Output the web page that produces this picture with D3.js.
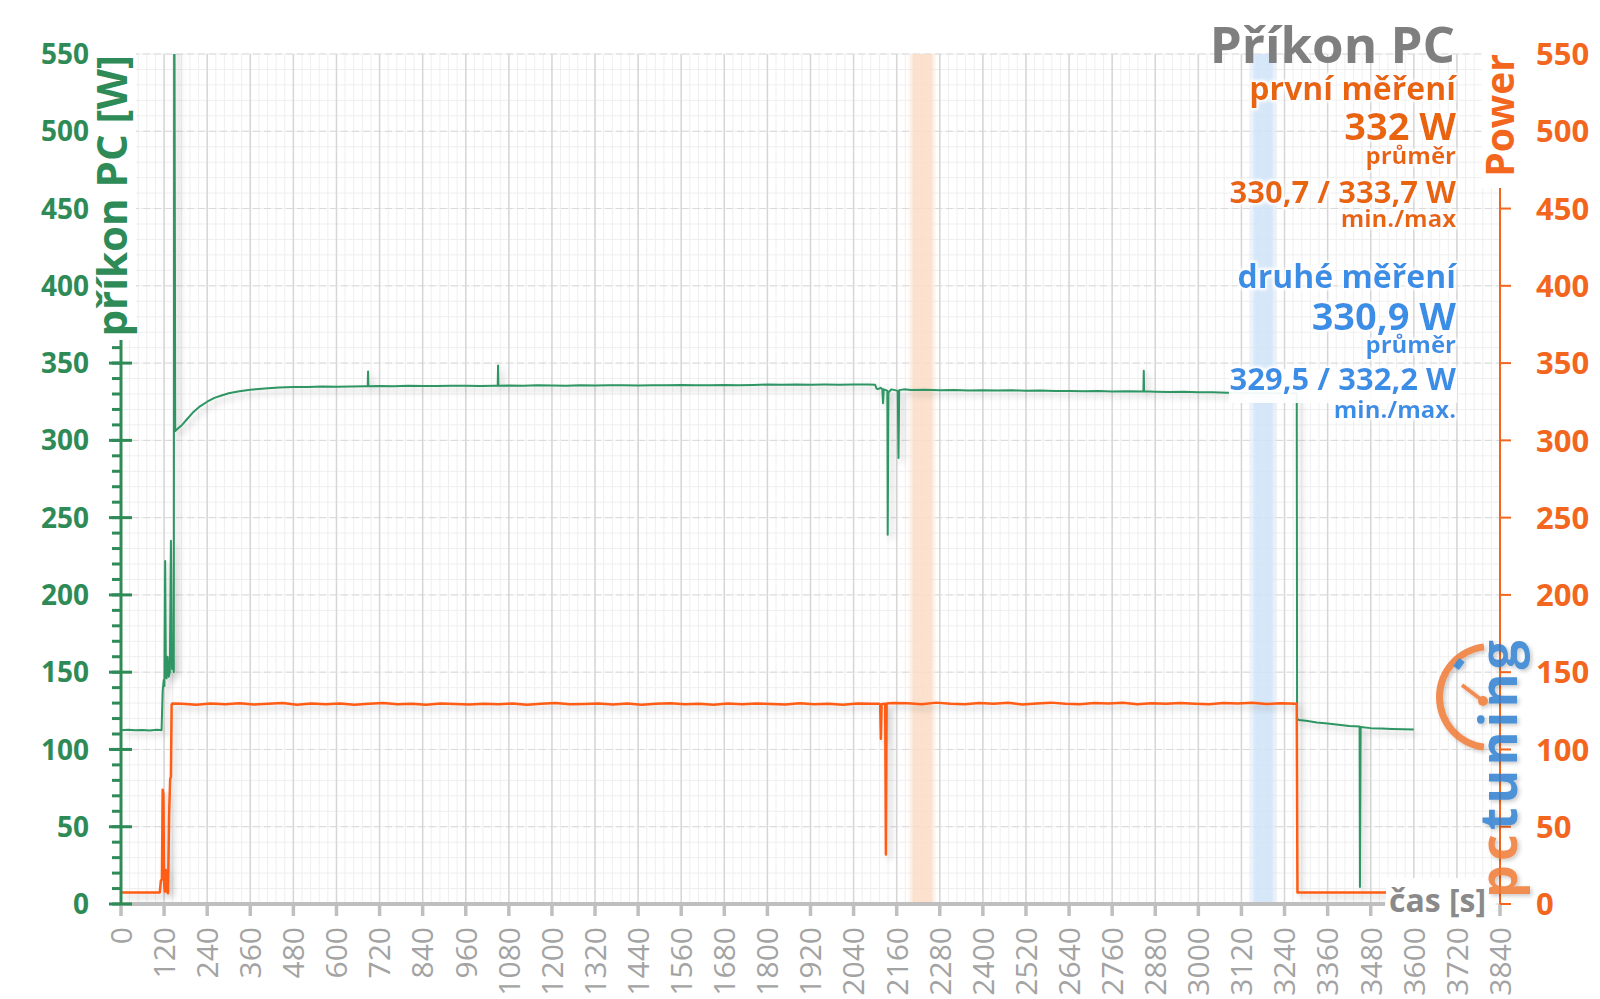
<!DOCTYPE html>
<html><head><meta charset="utf-8">
<script src="https://cdn.jsdelivr.net/npm/d3@7"></script>
<style>body{margin:0;background:#fff} svg{display:block} text{font-family:"Open Sans",sans-serif}</style>
</head><body><svg id="c" width="1600" height="999"></svg>
<script>
// ---- data ----
const xTickLabels = [0,120,240,360,480,600,720,840,960,1080,1200,1320,1440,1560,1680,1800,1920,2040,2160,2280,2400,2520,2640,2760,2880,3000,3120,3240,3360,3480,3600,3720,3840];
const yTickLabels = [0,50,100,150,200,250,300,350,400,450,500,550];

// příkon PC (green, left axis)
const pcTime = [0,20,40,60,80,100,113,116,119,121,123,125,127,130,133,136,139,142,144,147,148,149,151,160,170,185,200,220,240,260,280,300,330,360,400,440,480,520,560,600,640,680,687,688,689,720,760,800,840,880,920,960,1000,1040,1049,1050,1051,1080,1120,1160,1200,1240,1280,1320,1360,1400,1440,1480,1520,1560,1600,1640,1680,1720,1760,1800,1840,1880,1920,1960,2000,2040,2080,2100,2104,2108,2115,2120,2122,2124,2130,2134,2135,2137,2145,2155,2163,2165,2167,2180,2200,2240,2280,2320,2360,2400,2440,2480,2520,2560,2600,2640,2680,2720,2760,2800,2847,2848,2849,2880,2920,2960,3000,3040,3080,3120,3160,3200,3240,3274,3275,3280,3300,3330,3360,3390,3420,3449,3450,3452,3480,3510,3540,3570,3600];
const pcValue = [112.5,112.8,112.4,112.6,112.3,112.7,112.5,138,145,141,222,150,146,160,147,150,235,152,158,150,560,560,306,308,310,314,318,322,325,327.5,329,330.5,331.8,332.8,333.6,334.2,334.5,334.6,334.8,334.7,334.9,335,335,344.5,335,335.2,335,335.3,335.1,335.2,335.4,335.3,335.2,335.4,335.3,348.5,335.4,335.5,335.3,335.6,335.5,335.4,335.6,335.5,335.7,335.6,335.5,335.7,335.6,335.8,335.6,335.7,335.8,335.6,335.9,336.1,336,336.2,336,336.1,336,336.2,336.1,336,333.5,333.2,334,333,324,333,332.5,332,239,331,333,332.5,332,288.6,332.5,333,332.6,332.8,332.4,332.6,332.3,332.5,332.2,332.4,332.1,332.3,331.9,332,331.8,331.9,331.6,331.8,331.6,345,331.7,331.5,331.3,331.4,331.1,331.2,330.8,330.9,330.6,330.7,330.5,330.6,120,119,118.5,117.5,116.8,116,115.2,114.8,11,114.5,113.8,113.5,113.2,113,112.9];

// Power (orange, right axis)
const powerTime = [0,50,108,111,114,116,118,120,122,125,128,131,134,137,139,141,143,170,210,250,290,330,370,410,450,490,530,570,610,650,690,730,770,810,850,890,930,970,1010,1050,1090,1130,1170,1210,1250,1290,1330,1370,1410,1450,1490,1530,1570,1610,1650,1690,1730,1770,1810,1850,1890,1930,1970,2010,2050,2090,2112,2114,2116,2118,2126,2128,2130,2132,2150,2190,2230,2270,2310,2350,2390,2430,2470,2510,2550,2590,2630,2670,2710,2750,2790,2830,2870,2910,2950,2990,3030,3070,3110,3150,3190,3230,3270,3274,3276,3320,3400,3480,3560,3600];
const powerValue = [7.5,7.5,7.5,15,16,74,71,14,8,22,8,7,58,81,82,129,129.8,129.6,129,129.8,129.2,129.9,129.1,129.5,130,128.9,129.7,129.3,129.8,129,129.6,130.1,129.2,129.5,128.9,129.8,129.4,129.1,129.6,129.3,129.7,129,129.6,130,129.2,129.4,129.8,129.1,129.7,128.9,129.5,129.9,129.3,129.6,129,129.8,129.2,129.7,129.4,129.1,129.9,129.3,129.6,129,129.8,129.5,129.5,129,107,129.2,129.6,129.3,32,129.8,130,129.9,129.2,130.3,129.6,129.3,130,129.5,130.2,129.1,129.8,130.3,129.6,129.2,130,129.7,130.2,129.3,129.9,129.5,130.1,129.6,129.3,130,129.7,130.2,129.4,129.9,129.6,129.6,7.4,7.5,7.4,7.5,7.4,7.5];

// highlighted measurement windows
const bandStart = [2190, 3140];
const bandEnd   = [2272, 3222];
const bandColor = ["#FBDCC6", "#CFE3F8"];

// ---- drawing ----
const svg = d3.select("#c");
const x = d3.scaleLinear().domain([0,3840]).range([121,1500]);
const y = d3.scaleLinear().domain([0,550]).range([904,54]);
const X0 = x(0), X1 = x(3840), Y0 = y(0), Y1 = y(550);

const defs = svg.append("defs");
const f = defs.append("filter").attr("id","sh").attr("x","-20%").attr("y","-20%").attr("width","140%").attr("height","140%");
f.append("feDropShadow").attr("dx",4).attr("dy",4).attr("stdDeviation",3).attr("flood-color","#000").attr("flood-opacity",0.22);
defs.append("clipPath").attr("id","plot").append("rect").attr("x",X0).attr("y",Y1).attr("width",X1-X0).attr("height",Y0-Y1);
const tf = defs.append("filter").attr("id","glow").attr("x","-10%").attr("y","-30%").attr("width","120%").attr("height","160%");
tf.append("feMorphology").attr("in","SourceAlpha").attr("operator","dilate").attr("radius",2).attr("result","d");
tf.append("feGaussianBlur").attr("in","d").attr("stdDeviation",1.5).attr("result","b");
tf.append("feFlood").attr("flood-color","#fff");
tf.append("feComposite").attr("in2","b").attr("operator","in").attr("result","w");
const fm = tf.append("feMerge"); fm.append("feMergeNode").attr("in","w"); fm.append("feMergeNode").attr("in","SourceGraphic");
const lf = defs.append("filter").attr("id","lsh").attr("x","-30%").attr("y","-30%").attr("width","160%").attr("height","160%");
lf.append("feDropShadow").attr("dx",2).attr("dy",2).attr("stdDeviation",2).attr("flood-color","#000").attr("flood-opacity",0.25);

// grid
const g = svg.append("g");
g.selectAll(".vm").data(d3.range(0,3841,24)).join("line")
  .attr("x1",d=>x(d)).attr("x2",d=>x(d)).attr("y1",Y1).attr("y2",Y0).attr("stroke","#EFEFEF").attr("stroke-width",1);
g.selectAll(".hm").data(d3.range(0,551,10)).join("line")
  .attr("x1",X0).attr("x2",X1).attr("y1",d=>y(d)).attr("y2",d=>y(d)).attr("stroke","#EFEFEF").attr("stroke-width",1);
g.selectAll(".vM").data(xTickLabels).join("line")
  .attr("x1",d=>x(d)).attr("x2",d=>x(d)).attr("y1",Y1).attr("y2",Y0).attr("stroke","#D6D6D6").attr("stroke-width",1.5);
g.selectAll(".hM").data(yTickLabels).join("line")
  .attr("x1",X0).attr("x2",X1).attr("y1",d=>y(d)).attr("y2",d=>y(d)).attr("stroke","#D9D9D9").attr("stroke-width",1).attr("stroke-dasharray","7,4");

// bands
bandStart.forEach((s,i)=>{
  const gr = defs.append("linearGradient").attr("id","bg"+i);
  [[0,0],[0.22,1],[0.78,1],[1,0]].forEach(([o,a])=>gr.append("stop").attr("offset",o).attr("stop-color",bandColor[i]).attr("stop-opacity",a));
  svg.append("rect").attr("x",x(s)).attr("y",Y1).attr("width",x(bandEnd[i])-x(s)).attr("height",Y0-Y1).attr("fill","url(#bg"+i+")").attr("opacity",0.85);
});

// lines
const line = d3.line().x(d=>x(d[0])).y(d=>y(d[1]));
const pcData = pcTime.map((t,i)=>[t,pcValue[i]]);
const pwData = powerTime.map((t,i)=>[t,powerValue[i]]);
const lg = svg.append("g").attr("clip-path","url(#plot)");
lg.append("path").datum(pcData).attr("d",line).attr("fill","none").attr("stroke","#2E9563").attr("stroke-width",2).attr("stroke-linejoin","round").attr("filter","url(#sh)");
lg.append("path").datum(pwData).attr("d",line).attr("fill","none").attr("stroke","#FF5B14").attr("stroke-width",2.5).attr("stroke-linejoin","round").attr("filter","url(#sh)");

// x axis
svg.append("line").attr("x1",X0).attr("x2",1385).attr("y1",Y0).attr("y2",Y0).attr("stroke","#BFBFBF").attr("stroke-width",4);
svg.selectAll(".xt").data(xTickLabels).join("line")
  .attr("x1",d=>x(d)).attr("x2",d=>x(d)).attr("y1",Y0).attr("y2",Y0+12).attr("stroke","#BFBFBF").attr("stroke-width",3.5);
svg.selectAll(".xl").data(xTickLabels).join("text")
  .attr("transform",d=>`translate(${x(d)},${Y0+23}) rotate(-90)`)
  .attr("text-anchor","end").attr("dy","0.36em").attr("font-size",30).attr("fill","#A3A3A3").text(d=>d);

// left axis
const green = "#2E8B57";
svg.append("line").attr("x1",X0).attr("x2",X0).attr("y1",Y1).attr("y2",Y0).attr("stroke",green).attr("stroke-width",3);
svg.selectAll(".lmt").data(d3.range(0,551,10)).join("line")
  .attr("x1",112).attr("x2",X0).attr("y1",d=>y(d)).attr("y2",d=>y(d)).attr("stroke",green).attr("stroke-width",3);
svg.selectAll(".lMt").data(yTickLabels).join("line")
  .attr("x1",109).attr("x2",132).attr("y1",d=>y(d)).attr("y2",d=>y(d)).attr("stroke",green).attr("stroke-width",3);
svg.selectAll(".ll").data(yTickLabels).join("text")
  .attr("x",89).attr("y",d=>y(d)).attr("dy","0.36em").attr("text-anchor","end")
  .attr("font-size",28).attr("font-weight",700).attr("fill",green).text(d=>d);

// right axis
const orange = "#F2661E";
svg.append("line").attr("x1",X1).attr("x2",X1).attr("y1",Y1).attr("y2",Y0).attr("stroke",orange).attr("stroke-width",2);
svg.selectAll(".rt").data(yTickLabels).join("line")
  .attr("x1",X1).attr("x2",X1+11).attr("y1",d=>y(d)).attr("y2",d=>y(d)).attr("stroke",orange).attr("stroke-width",2);
svg.selectAll(".rl").data(yTickLabels).join("text")
  .attr("x",1536).attr("y",d=>y(d)).attr("dy","0.36em").attr("text-anchor","start")
  .attr("font-size",31).attr("font-weight",700).attr("fill",orange).text(d=>d);

// axis titles
svg.append("rect").attr("x",92).attr("y",50).attr("width",44).attr("height",290).attr("fill","#fff");
svg.append("text").attr("transform","translate(127,55) rotate(-90)").attr("text-anchor","end")
  .attr("font-size",42).attr("font-weight",700).attr("fill",green).text("příkon PC [W]");
svg.append("rect").attr("x",1482).attr("y",50).attr("width",36).attr("height",138).attr("fill","#fff");
svg.append("text").attr("transform","translate(1514,54) rotate(-90)").attr("text-anchor","end")
  .attr("font-size",39).attr("font-weight",700).attr("fill",orange).text("Power");
svg.append("rect").attr("x",1386).attr("y",878).attr("width",108).attr("height",40).attr("fill","#fff");
svg.append("text").attr("x",1389).attr("y",912).attr("font-size",32).attr("font-weight",700).attr("fill","#8A8A8A").text("čas [s]");

// title & annotations
svg.append("text").attr("x",1455).attr("y",63).attr("text-anchor","end").attr("font-size",51).attr("font-weight",700).attr("fill","#7F7F7F").text("Příkon PC");
svg.append("rect").attr("x",1229).attr("y",369).attr("width",228).attr("height",34).attr("fill","#fff").attr("opacity",0.92);
const oT = "#E8650F", bT = "#3A8EE6";
const ann = [
  ["první měření",100,32,oT],["332 W",140,38,oT],["průměr",164,24,oT],["330,7 / 333,7 W",203,31,oT],["min./max",227,24,oT],
  ["druhé měření",288,32,bT],["330,9 W",330,38,bT],["průměr",353,24,bT],["329,5 / 332,2 W",390,31,bT],["min./max.",418,24,bT]
];
svg.selectAll(".an").data(ann).join("text")
  .attr("x",1456).attr("y",d=>d[1]).attr("text-anchor","end").attr("font-size",d=>d[2]).attr("font-weight",700)
  .attr("fill",d=>d[3]).attr("filter","url(#glow)").text(d=>d[0]);

// logo
const lgG = svg.append("g").attr("opacity",0.85).attr("filter","url(#lsh)");
const arc = d3.arc().innerRadius(47).outerRadius(54).startAngle(Math.PI+0.12).endAngle(2*Math.PI-0.12);
lgG.append("path").attr("transform","translate(1490,697)").attr("d",arc()).attr("fill","#F07A35");
lgG.append("line").attr("x1",1483).attr("y1",701).attr("x2",1462).attr("y2",685).attr("stroke","#F07A35").attr("stroke-width",4);
lgG.append("circle").attr("cx",1483).attr("cy",701).attr("r",5).attr("fill","#F07A35");
lgG.append("line").attr("x1",1456).attr("y1",668).attr("x2",1462).attr("y2",660).attr("stroke","#2F7FD0").attr("stroke-width",7);
const lt = lgG.append("text").attr("transform","translate(1517,898) rotate(-90)")
  .attr("font-family","'DejaVu Sans Mono',monospace").attr("font-weight",700).attr("font-size",52).attr("letter-spacing",4);
lt.append("tspan").attr("fill","#F07A35").text("pc");
lt.append("tspan").attr("fill","#2F7FD0").text("tuning");
</script></body></html>
